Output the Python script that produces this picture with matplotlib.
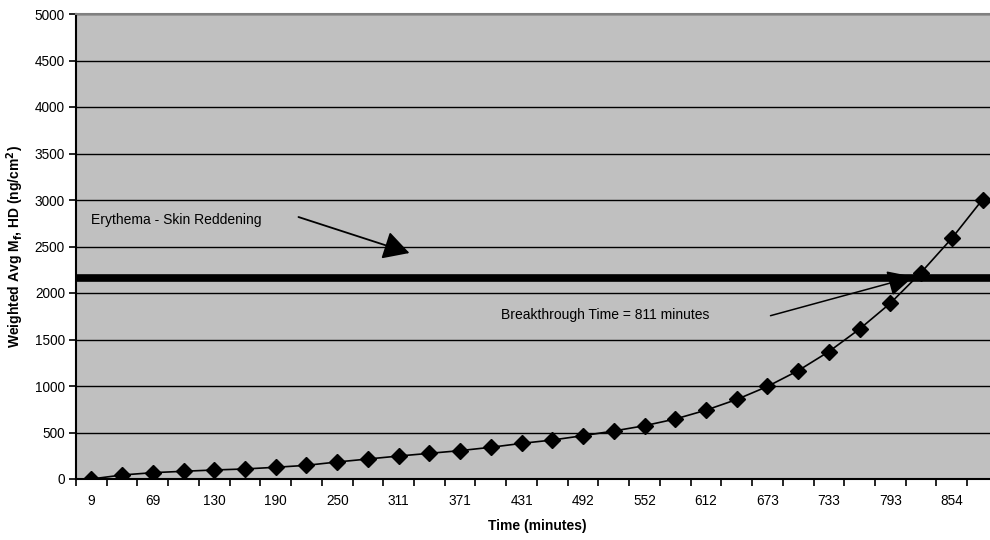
import numpy as np
import matplotlib.pyplot as plt

plt.rcParams['font.family'] = ['Liberation Sans', 'DejaVu Sans']

# Time points (minutes) - category axis
times = [9, 39, 69, 100, 130, 160, 190, 220, 250, 281, 311, 341, 371, 401, 431,
         462, 492, 522, 552, 582, 612, 643, 673, 703, 733, 763, 793, 824, 854, 884]
# weighted average M_f, HD (ng/cm^2)
values = [0, 43, 68, 83, 97, 108, 126, 147, 183, 215, 247, 276, 305, 341, 383,
          419, 466, 516, 573, 645, 740, 855, 995, 1165, 1370, 1613, 1890, 2220, 2588, 3005]
erythema_level = 2160

fig = plt.figure(figsize=(9.9, 5.4), dpi=100)
fig.patch.set_facecolor('white')
ax = fig.add_axes([76/990, 61/540, 30*30.73/990, 465/540])
ax.set_facecolor('#C0C0C0')

x = np.arange(len(times))
ax.set_xlim(-0.5, len(times) - 0.5)
ax.set_ylim(0, 5000)

# gridlines
for yv in np.arange(500, 5001, 500):
    ax.axhline(yv, color='black', lw=1.0, zorder=1)

ax.axhline(erythema_level, color='black', lw=5.5, zorder=2)
ax.plot(x, values, color='black', lw=1.2, marker='D', markersize=8.5, zorder=3)

# x ticks between categories, labels every other category
ax.set_xticks(np.arange(-0.5, len(times), 1))
ax.set_xticklabels([])
ax.tick_params(axis='x', which='major', length=5, width=1.2, direction='out')
ax.set_xticks(x[::2], minor=True)
ax.set_xticklabels([str(t) for t in times[::2]], minor=True)
ax.tick_params(axis='x', which='minor', length=0, pad=11, labelsize=9.8)

ax.set_yticks(np.arange(0, 5001, 500))
ax.tick_params(axis='y', length=5, width=1.2, direction='out', labelsize=9.8, pad=3)

for s in ['left', 'bottom']:
    ax.spines[s].set_linewidth(1.5)
    ax.spines[s].set_color('black')
ax.spines['top'].set_color('#808080')
ax.spines['top'].set_linewidth(1.5)
ax.spines['right'].set_visible(False)

ax.set_xlabel('Time (minutes)', fontweight='bold', fontsize=10, labelpad=8)
ax.set_ylabel(r'Weighted Avg M$_\mathbf{f}$, HD (ng/cm$^\mathbf{2}$)',
              fontweight='bold', fontsize=10, labelpad=6)

ax.text(0.0, 2785, 'Erythema - Skin Reddening', fontsize=10, va='center', ha='left')
ax.annotate('', xy=(10.35, 2430), xytext=(6.74, 2817),
            arrowprops=dict(arrowstyle='-|>,head_length=1.0,head_width=0.55',
                            color='black', lw=1.3, mutation_scale=16, shrinkA=0, shrinkB=0))

ax.text(13.33, 1763, 'Breakthrough Time = 811 minutes', fontsize=10, va='center', ha='left')
ax.annotate('', xy=(26.75, 2175), xytext=(22.1, 1756),
            arrowprops=dict(arrowstyle='-|>,head_length=1.0,head_width=0.5',
                            color='black', lw=1.1, mutation_scale=16, shrinkA=0, shrinkB=0))

fig.savefig('out.png', dpi=100)
